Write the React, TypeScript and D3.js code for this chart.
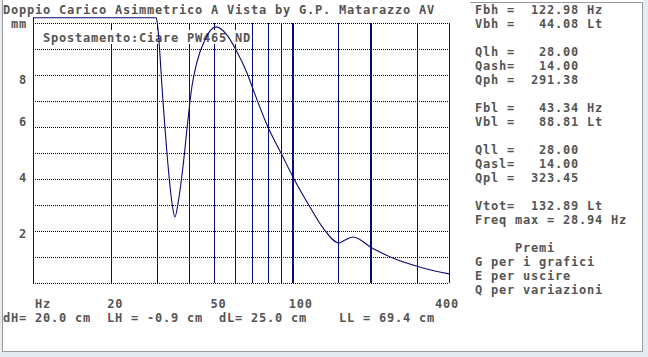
import React from 'react';
import * as d3 from 'd3';

const W = 648;
const H = 357;

// ---- texts ----
const title = 'Doppio Carico Asimmetrico A Vista by G.P. Matarazzo AV';
const yUnit = 'mm';
const xUnit = 'Hz';
const legendLabel = 'Spostamento:Ciare PW465 ND';
const bottomLine = 'dH= 20.0 cm  LH = -0.9 cm  dL= 25.0 cm    LL = 69.4 cm';
const panelLines = [
  'Fbh =  122.98 Hz',
  'Vbh =   44.08 Lt',
  '',
  'Qlh =   28.00',
  'Qash=   14.00',
  'Qph =  291.38',
  '',
  'Fbl =   43.34 Hz',
  'Vbl =   88.81 Lt',
  '',
  'Qll =   28.00',
  'Qasl=   14.00',
  'Qpl =  323.45',
  '',
  'Vtot=  132.89 Lt',
  'Freq max = 28.94 Hz',
  '',
  '     Premi',
  'G per i grafici',
  'E per uscire',
  'Q per variazioni',
];

// ---- axes ----
const freqDomain = [10, 400];
const dispDomain = [0, 10];
const dispClip = 10.2;
const gridFreqs = [10, 20, 30, 40, 50, 60, 70, 80, 90, 100, 150, 200, 300, 400];
const majorFreqs = [100, 200];
const gridDisp = [0, 1, 2, 3, 4, 5, 6, 7, 8, 9, 10];
const xTickValues = [20, 50, 100, 400];
const yTickValues = [2, 4, 6, 8];

// ---- series: cone displacement (mm) vs frequency (Hz) ----
const freq = [10, 20, 28, 29.8, 30.0, 31.7, 32.8, 34.3, 35.2, 36.2, 37.8, 39.5, 40.9, 42.8, 45.9, 50.7, 55.8, 60.5, 66.7, 71.0, 80.3, 91.0, 101.2, 116.6, 130.9, 150.8, 159, 170.7, 202, 243, 317.5, 400];
const disp = [10.2, 10.2, 10.2, 10.2, 10.1, 6.92, 5.0, 3.08, 2.54, 3.08, 4.46, 6.27, 7.54, 8.5, 9.35, 9.85, 9.54, 8.96, 8.08, 7.35, 6.0, 4.92, 4.0, 2.92, 2.12, 1.54, 1.65, 1.77, 1.35, 0.96, 0.58, 0.35];

// character grid (old text-mode screen)
const CW = 8;
const RH = 14;
const OX = 3;
const colX = (c: number) => OX + c * CW;
const rowBase = (r: number) => 14 + r * RH;
const TEXT = '#555555';
const NAVY = '#0a0a78';

function GridText({ x, y, text, fill = TEXT }: { x: number; y: number; text: string; fill?: string }) {
  const chars = text.split('');
  const xs = chars.map((_, i) => x + i * CW).join(' ');
  return (
    <text
      x={xs}
      y={y}
      fill={fill}
      fontFamily="'DejaVu Sans Mono', 'Liberation Mono', monospace"
      fontWeight="bold"
      fontSize={12}
    >
      {chars.map((c) => (c === ' ' ? '\u00A0' : c)).join('')}
    </text>
  );
}

export default function App() {
  const x = d3.scaleLog().domain(freqDomain).range([33, 449]);
  const y = d3.scaleLinear().domain(dispDomain).range([283, 23]);
  const pts = freq.map((f, i) => ({ f, v: Math.min(disp[i], dispClip) }));
  const line = d3
    .line<{ f: number; v: number }>()
    .x((d) => x(d.f))
    .y((d) => y(d.v))
    .curve(d3.curveMonotoneX);
  const yTop = y(dispClip);

  return (
    <svg width={W} height={H} style={{ position: 'fixed', left: 0, top: 0 }}>
      <rect x={0} y={0} width={W} height={H} fill="#e3ebf3" />
      <rect x={2} y={0} width={641} height={352} fill="#ffffff" />
      <line x1={2.5} y1={0} x2={2.5} y2={352} stroke="#9a9a9a" />
      <line x1={642.5} y1={2} x2={642.5} y2={352} stroke="#9a9a9a" />
      <line x1={2} y1={351.5} x2={643} y2={351.5} stroke="#9a9a9a" />
      <line x1={470} y1={2.5} x2={643} y2={2.5} stroke="#9a9a9a" />

      {/* horizontal dotted grid */}
      {gridDisp.map((v) => (
        <line
          key={'h' + v}
          x1={x(freqDomain[0])}
          x2={x(freqDomain[1])}
          y1={Math.round(y(v)) + 0.5}
          y2={Math.round(y(v)) + 0.5}
          stroke="#000020"
          strokeDasharray="1 1"
        />
      ))}
      {/* vertical grid */}
      {gridFreqs.map((f) => {
        const major = majorFreqs.includes(f);
        const xx = Math.round(x(f)) + (major ? 0 : 0.5);
        return (
          <line
            key={'v' + f}
            x1={xx}
            x2={xx}
            y1={f === freqDomain[0] ? yTop : y(dispDomain[1])}
            y2={y(0)}
            stroke={NAVY}
            strokeWidth={major ? 2 : 1}
          />
        );
      })}

      {/* legend text with text-mode background */}
      <rect x={colX(5)} y={rowBase(2) - 12} width={legendLabel.length * CW} height={RH} fill="#ffffff" />
      <GridText x={colX(5)} y={rowBase(2)} text={legendLabel} />

      {/* curve */}
      <path d={line(pts) || ''} fill="none" stroke={NAVY} strokeWidth={1.1} />

      {/* title & units */}
      <GridText x={colX(0)} y={rowBase(0)} text={title} />
      <GridText x={colX(1)} y={rowBase(1)} text={yUnit} />
      <GridText x={colX(4)} y={rowBase(21)} text={xUnit} />

      {/* y tick labels snapped to text rows */}
      {yTickValues.map((v) => (
        <GridText key={'yl' + v} x={colX(2)} y={rowBase(Math.round((y(v) - 9) / RH))} text={String(v)} />
      ))}
      {/* x tick labels */}
      {xTickValues.map((v, i) => {
        const s = String(v);
        const last = i === xTickValues.length - 1;
        const start = last ? x(v) + 10 - s.length * CW : x(v) - 4;
        return <GridText key={'xl' + v} x={start} y={rowBase(21)} text={s} />;
      })}

      <GridText x={colX(0)} y={rowBase(22)} text={bottomLine} />

      {panelLines.map((t, i) => (t ? <GridText key={'p' + i} x={colX(59)} y={rowBase(i)} text={t} /> : null))}
    </svg>
  );
}
